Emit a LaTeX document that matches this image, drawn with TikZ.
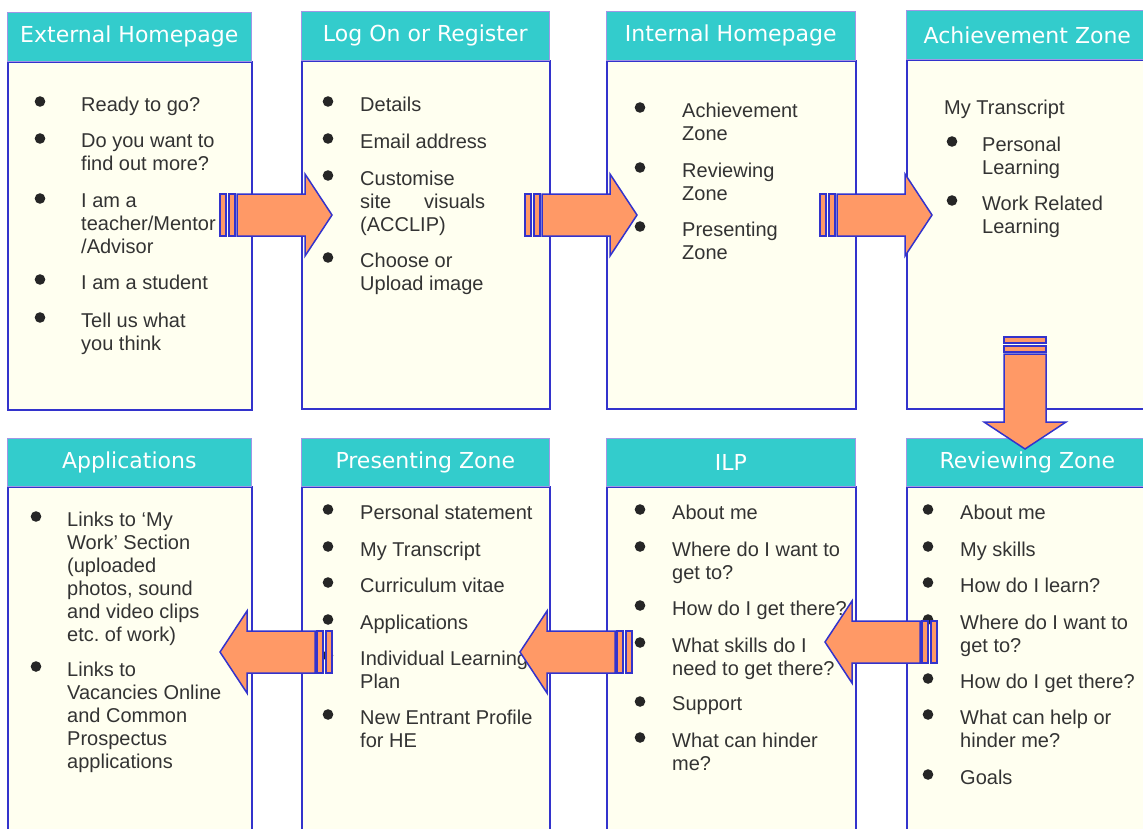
\documentclass[tikz,border=0pt]{standalone}
\usepackage{fontspec}
\usepackage{tikz}
\setmainfont{Liberation Sans}
\newfontfamily\hdrfont{DejaVu Sans}
\frenchspacing

\definecolor{hdrteal}{RGB}{51,204,204}
\definecolor{hdredge}{RGB}{160,150,230}
\definecolor{paper}{RGB}{255,255,240}
\definecolor{edgeblue}{RGB}{51,51,204}
\definecolor{salmon}{RGB}{255,153,102}
\definecolor{inkgray}{RGB}{51,51,51}

% bullet item: name, bullet x, text x, line centre y, text
\newcommand{\bitem}[5]{%
	\fill[black!85] (#2,#4-2.5) circle (5.3);
	\node (#1) at (#3,#4-7.5) [itemtext] {#5};}

% block arrow: x, y of the striped end, angle
\newcommand{\blockarrow}[3]{%
	\begin{scope}[shift={(#1,#2)}, rotate=#3]
		\draw[fatarrow] (0,-21) rectangle (6,21);
		\draw[fatarrow] (9,-21) rectangle (15,21);
		\draw[fatarrow] (17,-21) -- (85,-21) -- (85,-41) -- (112,0) -- (85,41) -- (85,21) -- (17,21) -- cycle;
	\end{scope}}

\begin{document}
\begin{tikzpicture}[x=1pt, y=-1pt,
	panel/.style={fill=paper, draw=edgeblue, line width=2pt, inner sep=0, anchor=north west},
	hdr/.style={fill=hdrteal, draw=hdredge, line width=0.6pt, text=white, inner sep=0,
		anchor=north west, minimum height=49, font=\hdrfont\fontsize{22}{26}\selectfont},
	itemtext/.style={anchor=north west, inner sep=0, align=left, text=inkgray,
		font=\fontsize{20}{23}\selectfont},
	fatarrow/.style={fill=salmon, draw=edgeblue, line width=1.5pt, line join=miter}]
	\useasboundingbox (0,0) rectangle (1143,828);

	\node (exthome) at (7,61) [panel, minimum width=244, minimum height=348] {};
	\node (exthome-h) at (7,12) [hdr, minimum width=244] {External Homepage};
	\node (logon) at (301,60) [panel, minimum width=248, minimum height=348] {};
	\node (logon-h) at (301,11) [hdr, minimum width=248] {Log On or Register};
	\node (inthome) at (606,60) [panel, minimum width=249, minimum height=348] {};
	\node (inthome-h) at (606,11) [hdr, minimum width=249] {Internal Homepage};
	\node (achieve) at (906,59) [panel, minimum width=242, minimum height=349] {};
	\node (achieve-h) at (906,10) [hdr, minimum width=242] {Achievement Zone};

	\node (applic) at (7,486) [panel, minimum width=244, minimum height=370] {};
	\node (applic-h) at (7,438) [hdr, minimum width=244, minimum height=48] {Applications};
	\node (present) at (301,486) [panel, minimum width=248, minimum height=370] {};
	\node (present-h) at (301,438) [hdr, minimum width=248, minimum height=48] {Presenting Zone};
	\node (ilp) at (606,486) [panel, minimum width=249, minimum height=370] {};
	\node (ilp-h) at (606,438) [hdr, minimum width=249, minimum height=48] {ILP};
	\node (review) at (906,486) [panel, minimum width=242, minimum height=370] {};
	\node (review-h) at (906,438) [hdr, minimum width=242, minimum height=48] {Reviewing Zone};

	\bitem{eh1}{40}{81}{104}{Ready to go?}
	\bitem{eh2}{40}{81}{141}{Do you want to\\find out more?}
	\bitem{eh3}{40}{81}{201}{I am a\\teacher/Mentor\\/Advisor}
	\bitem{eh4}{40}{81}{282}{I am a student}
	\bitem{eh5}{40}{81}{320}{Tell us what\\you think}

	\bitem{lo1}{328}{360}{104}{Details}
	\bitem{lo2}{328}{360}{141}{Email address}
	\bitem{lo3}{328}{360}{178}{Customise\\\makebox[125pt][s]{site visuals}\\(ACCLIP)}
	\bitem{lo4}{328}{360}{260}{Choose or\\Upload image}

	\bitem{ih1}{640}{682}{110}{Achievement\\Zone}
	\bitem{ih2}{640}{682}{170}{Reviewing\\Zone}
	\bitem{ih3}{640}{682}{229}{Presenting\\Zone}

	\node (az0) at (944,99.5) [itemtext] {My Transcript};
	\bitem{az1}{952}{982}{144}{Personal\\Learning}
	\bitem{az2}{952}{982}{203}{Work Related\\Learning}

	\bitem{ap1}{36}{67}{519}{Links to ‘My\\Work’ Section\\(uploaded\\photos, sound\\and video clips\\etc. of work)}
	\bitem{ap2}{36}{67}{669}{Links to\\Vacancies Online\\and Common\\Prospectus\\applications}

	\bitem{pz1}{328}{360}{512}{Personal statement}
	\bitem{pz2}{328}{360}{549}{My Transcript}
	\bitem{pz3}{328}{360}{585}{Curriculum vitae}
	\bitem{pz4}{328}{360}{622}{Applications}
	\bitem{pz5}{328}{360}{658}{Individual Learning\\Plan}
	\bitem{pz6}{328}{360}{717}{New Entrant Profile\\for HE}

	\bitem{il1}{640}{672}{512}{About me}
	\bitem{il2}{640}{672}{549}{Where do I want to\\get to?}
	\bitem{il3}{640}{672}{608}{How do I get there?}
	\bitem{il4}{640}{672}{645}{What skills do I\\need to get there?}
	\bitem{il5}{640}{672}{704}{Support}
	\bitem{il6}{640}{672}{740}{What can hinder\\me?}

	\bitem{rz1}{928}{960}{512}{About me}
	\bitem{rz2}{928}{960}{549}{My skills}
	\bitem{rz3}{928}{960}{585}{How do I learn?}
	\bitem{rz4}{928}{960}{622}{Where do I want to\\get to?}
	\bitem{rz5}{928}{960}{681}{How do I get there?}
	\bitem{rz6}{928}{960}{717}{What can help or\\hinder me?}
	\bitem{rz7}{928}{960}{777}{Goals}

	\blockarrow{220}{215}{0}
	\blockarrow{525}{215}{0}
	\blockarrow{820}{215}{0}
	\blockarrow{1025}{337}{-90}
	\blockarrow{937}{642}{180}
	\blockarrow{632}{652}{180}
	\blockarrow{332}{652}{180}
\end{tikzpicture}
\end{document}
